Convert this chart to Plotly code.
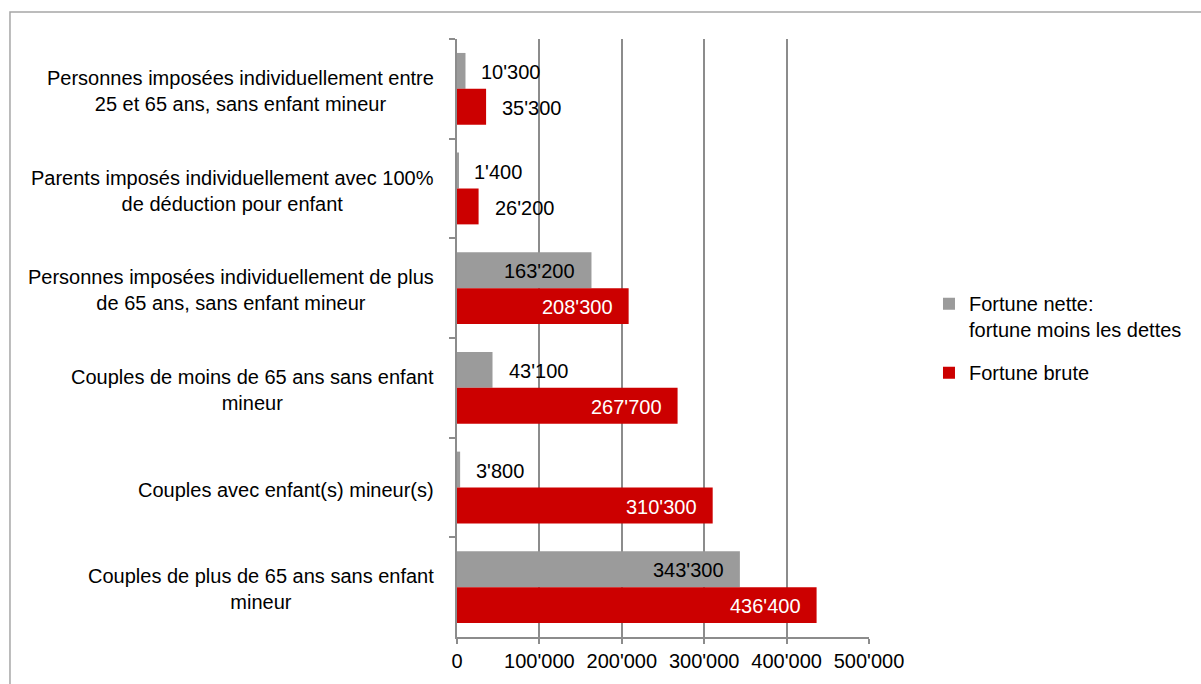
import plotly.graph_objects as go

categories = [
    "Personnes imposées individuellement entre<br>25 et 65 ans, sans enfant mineur",
    "Parents imposés individuellement avec 100%<br>de déduction pour enfant",
    "Personnes imposées individuellement de plus<br>de 65 ans, sans enfant mineur",
    "Couples de moins de 65 ans sans enfant<br>mineur",
    "Couples avec enfant(s) mineur(s)",
    "Couples de plus de 65 ans sans enfant<br>mineur",
]
cat_ids = ["c1", "c2", "c3", "c4", "c5", "c6"]
fortune_nette = [10300, 1400, 163200, 43100, 3800, 343300]
fortune_brute = [35300, 26200, 208300, 267700, 310300, 436400]
series_names = ["Fortune nette:<br>fortune moins les dettes", "Fortune brute"]
x_ticks = [0, 100000, 200000, 300000, 400000, 500000]

GRAY = "#9b9b9b"
RED = "#cc0000"
FONT = "Liberation Sans, Arial, sans-serif"
FS = 20

def fmt(v):
    return f"{v:,}".replace(",", "'")

fig = go.Figure()
fig.add_trace(go.Bar(y=cat_ids, x=fortune_nette, orientation="h", name=series_names[0],
                     legendgroup="g1", marker=dict(color=GRAY, line=dict(width=0))))
fig.add_trace(go.Bar(y=cat_ids, x=fortune_brute, orientation="h", name=series_names[1],
                     legendgroup="g2", marker=dict(color=RED, line=dict(width=0))))

annotations = []
# category labels (centered multi-line)
for cid, lab in zip(cat_ids, categories):
    annotations.append(dict(x=0, xref="paper", y=cid, yref="y", text=lab, showarrow=False,
                            xanchor="right", align="center", xshift=-21, yshift=-2,
                            font=dict(family=FONT, size=FS, color="#000")))
# data labels
for vals, shift, incolor in [(fortune_nette, 17, "#000"), (fortune_brute, -19, "#fff")]:
    for cid, v in zip(cat_ids, vals):
        inside = v > 100000
        annotations.append(dict(x=v, y=cid, xref="x", yref="y", text=fmt(v), showarrow=False,
                                xanchor="right" if inside else "left",
                                xshift=-14 if inside else 14, yshift=shift,
                                font=dict(family=FONT, size=FS, color=incolor if inside else "#000")))

fig.update_layout(
    width=1201, height=684,
    margin=dict(l=457, r=332, t=39, b=47),
    paper_bgcolor="white", plot_bgcolor="white",
    barmode="group", bargap=0.28, bargroupgap=0,
    separators=".'",
    font=dict(family=FONT, size=FS, color="#000"),
    showlegend=True,
    legend=dict(x=1.1456, y=0.59, xanchor="left", yanchor="top", valign="top",
                font=dict(family=FONT, size=FS, color="#000"),
                tracegroupgap=14, itemwidth=30, bgcolor="rgba(0,0,0,0)"),
    annotations=annotations,
    shapes=[dict(type="rect", xref="paper", yref="paper", x0=-1.085, x1=1.85, y0=-0.2, y1=1.045,
                 line=dict(color="#a6a6a6", width=1.5), layer="below")],
)
fig.update_xaxes(range=[0, 500000], tickvals=x_ticks, tickformat=",d",
                 showgrid=True, gridcolor="#8c8c8c", gridwidth=1.5,
                 showline=True, linecolor="#8c8c8c", linewidth=1.5,
                 ticks="outside", ticklen=5, tickcolor="#8c8c8c", tickwidth=1.5,
                 zeroline=False, tickfont=dict(family=FONT, size=FS, color="#000"))
fig.update_yaxes(categoryorder="array", categoryarray=cat_ids, autorange="reversed",
                 showticklabels=False, tickson="boundaries", ticks="outside", ticklen=6,
                 tickcolor="#8c8c8c", tickwidth=1.5,
                 showline=True, linecolor="#8c8c8c", linewidth=1.5, showgrid=False, zeroline=False)

fig.write_html("out.html", config={"displayModeBar": False},
               post_script="document.body.style.margin='0';document.body.style.overflow='hidden';")
